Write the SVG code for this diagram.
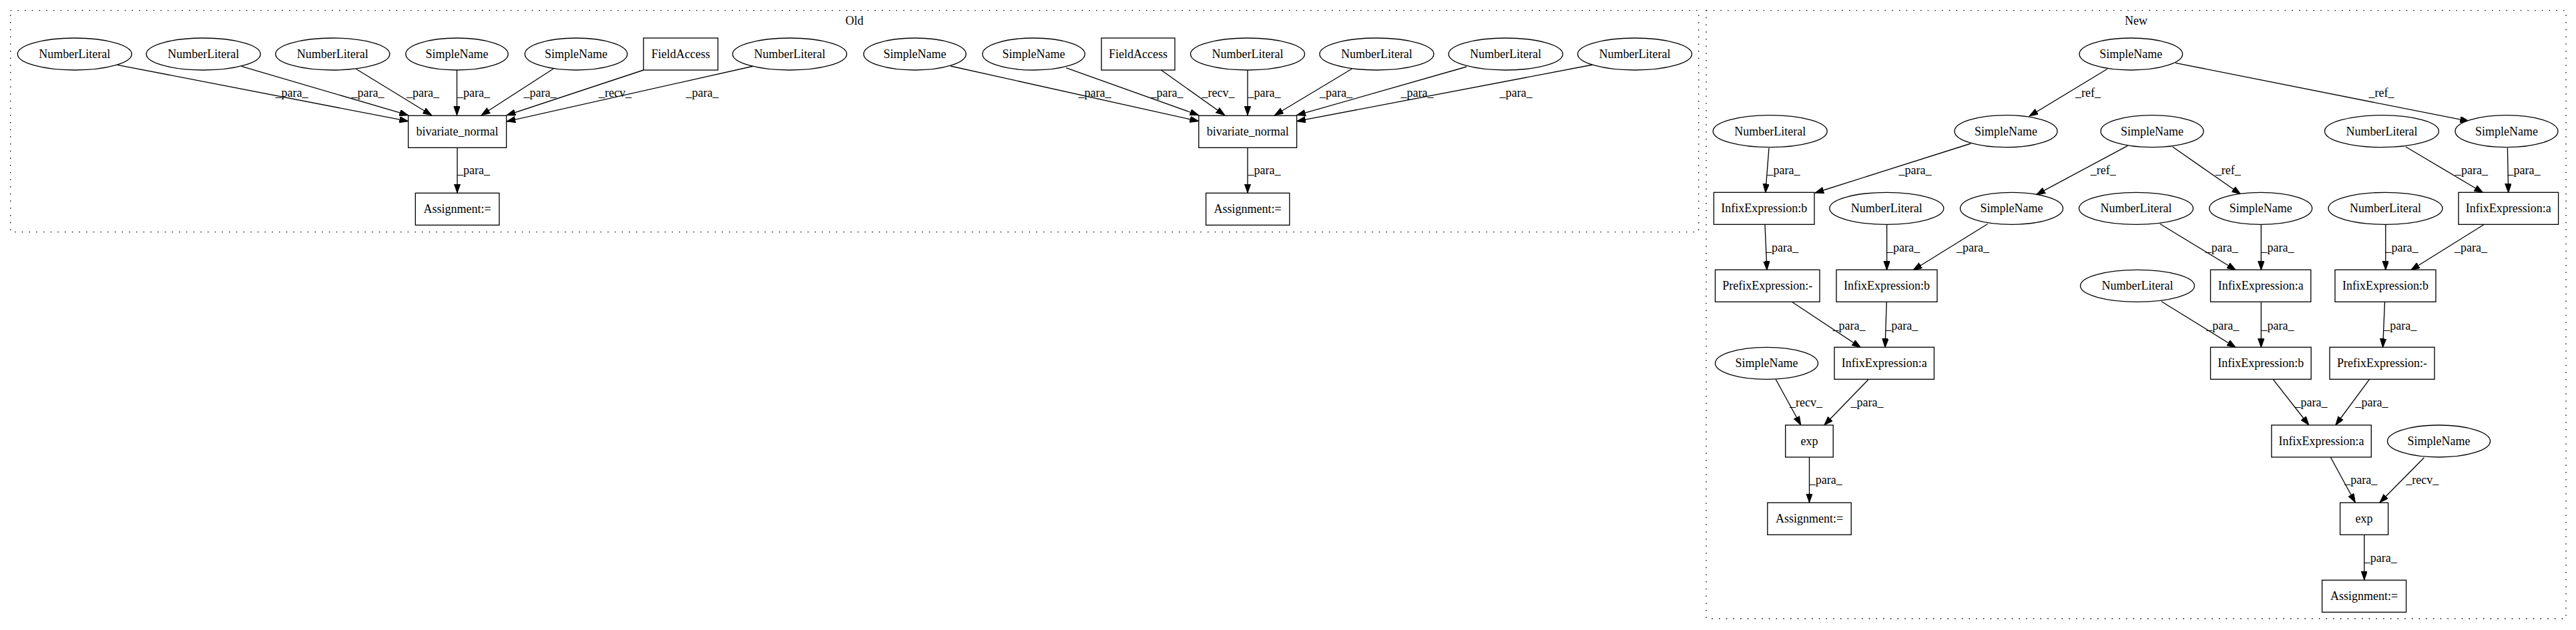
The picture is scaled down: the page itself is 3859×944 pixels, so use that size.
<svg xmlns="http://www.w3.org/2000/svg" width="3859" height="944" viewBox="0 0 3859 944">
<style>
.bg{fill:#ffffff}
.cl{fill:none;stroke:#000;stroke-width:1.33;stroke-dasharray:1.5,9.2}
.nd ellipse,.nd rect{fill:#fff;stroke:#000;stroke-width:1.33}
text{font-family:"Liberation Serif","Times New Roman",Times,serif;font-size:18px;fill:#000;text-anchor:middle}
.ed line{stroke:#000;stroke-width:1.33;fill:none;marker-end:url(#arr)}
</style>
<defs>
<marker id="arr" markerUnits="userSpaceOnUse" markerWidth="14" markerHeight="10" refX="13.3" refY="4.67" orient="auto">
<path d="M0,0 L13.3,4.67 L0,9.33 Z" fill="#000" stroke="#000" stroke-width="1"/>
</marker>
</defs>
<rect class="bg" x="0" y="0" width="3859" height="944"/>
<g id="cluster_old">
<rect class="cl" x="15.7" y="15.7" width="2529" height="332"/>
<text x="1280" y="37">Old</text>
</g>
<g id="cluster_new">
<rect class="cl" x="2556" y="15.7" width="1288" height="911.3"/>
<text x="3200" y="37">New</text>
</g>
<g id="connectors" class="ed">
<line x1="176" y1="97.3" x2="611.7" y2="181.7"/>
<line x1="361.7" y1="99.3" x2="611.7" y2="172.7"/>
<line x1="533.3" y1="103.3" x2="646.7" y2="172.7"/>
<line x1="684.5" y1="105" x2="684.5" y2="172.7"/>
<line x1="829" y1="103" x2="721" y2="172.7"/>
<line x1="964" y1="105" x2="759" y2="172.7"/>
<line x1="1129" y1="99" x2="759" y2="182"/>
<line x1="685" y1="221.3" x2="685" y2="289"/>
<line x1="1424" y1="99" x2="1795.8" y2="181.7"/>
<line x1="1597" y1="101.7" x2="1795.8" y2="172.7"/>
<line x1="1739.5" y1="105" x2="1834.8" y2="172.7"/>
<line x1="1869" y1="105" x2="1869" y2="172.7"/>
<line x1="2025.5" y1="103" x2="1909.4" y2="172.7"/>
<line x1="2197" y1="100" x2="1942.6" y2="172.7"/>
<line x1="2386" y1="97" x2="1942.6" y2="181.7"/>
<line x1="1869" y1="221.3" x2="1869" y2="289"/>
<line x1="3157" y1="103.3" x2="3040" y2="174"/>
<line x1="3259" y1="94.3" x2="3698.8" y2="181.7"/>
<line x1="2650" y1="221.7" x2="2644.8" y2="288.7"/>
<line x1="2952.5" y1="215" x2="2719" y2="289"/>
<line x1="3187.4" y1="218.3" x2="3050.6" y2="291.7"/>
<line x1="3254.7" y1="220" x2="3356.6" y2="291"/>
<line x1="3604" y1="220" x2="3719.8" y2="288.7"/>
<line x1="3756.4" y1="221.7" x2="3757.7" y2="288.7"/>
<line x1="2644" y1="336.7" x2="2647" y2="404.7"/>
<line x1="2826.6" y1="336.7" x2="2826.6" y2="404.7"/>
<line x1="2977.7" y1="335.5" x2="2866" y2="404.7"/>
<line x1="3235.8" y1="335.5" x2="3349.4" y2="404.7"/>
<line x1="3387.3" y1="336.7" x2="3387.3" y2="404.7"/>
<line x1="3573.8" y1="336.7" x2="3573.8" y2="404.7"/>
<line x1="3720.7" y1="336.7" x2="3611.6" y2="404.7"/>
<line x1="2685" y1="452.7" x2="2787.5" y2="520.7"/>
<line x1="2826.2" y1="452.7" x2="2824" y2="520.7"/>
<line x1="3238" y1="451.7" x2="3349.4" y2="520.7"/>
<line x1="3387.3" y1="452.7" x2="3387.3" y2="520.7"/>
<line x1="3572.5" y1="452.7" x2="3569.6" y2="520.7"/>
<line x1="2660" y1="568" x2="2697.8" y2="637"/>
<line x1="2798.9" y1="568.7" x2="2732.8" y2="637"/>
<line x1="3405.4" y1="568.7" x2="3458.9" y2="637"/>
<line x1="3549.4" y1="568.7" x2="3498.8" y2="637"/>
<line x1="2710.5" y1="685" x2="2710.5" y2="753"/>
<line x1="3491.3" y1="685" x2="3528.3" y2="753"/>
<line x1="3631.4" y1="685.7" x2="3565" y2="753"/>
<line x1="3541.8" y1="801" x2="3541.8" y2="869"/>
<g id="edge_labels">
<text x="437" y="145.3">_para_</text>
<text x="551" y="145.3">_para_</text>
<text x="633.5" y="145.3">_para_</text>
<text x="709.5" y="145.3">_para_</text>
<text x="809" y="145.3">_para_</text>
<text x="921.5" y="145.3">_recv_</text>
<text x="1052" y="145.3">_para_</text>
<text x="709.5" y="261">_para_</text>
<text x="1640" y="145.3">_para_</text>
<text x="1748" y="145.3">_para_</text>
<text x="1825" y="145.3">_recv_</text>
<text x="1894" y="145.3">_para_</text>
<text x="2001.4" y="145.3">_para_</text>
<text x="2123" y="145.3">_para_</text>
<text x="2271" y="145.3">_para_</text>
<text x="1894" y="261">_para_</text>
<text x="3128" y="145.3">_ref_</text>
<text x="3567.5" y="145.3">_ref_</text>
<text x="2672" y="261.3">_para_</text>
<text x="2869" y="261.3">_para_</text>
<text x="3150.7" y="261.3">_ref_</text>
<text x="3337.8" y="261.3">_ref_</text>
<text x="3702.5" y="261.3">_para_</text>
<text x="3781" y="261.3">_para_</text>
<text x="2669.5" y="376.7">_para_</text>
<text x="2851.6" y="376.7">_para_</text>
<text x="2955.5" y="376.7">_para_</text>
<text x="3328.3" y="376.7">_para_</text>
<text x="3412" y="376.7">_para_</text>
<text x="3598" y="376.7">_para_</text>
<text x="3701.5" y="376.7">_para_</text>
<text x="2770" y="493.7">_para_</text>
<text x="2848.8" y="493.7">_para_</text>
<text x="3329.8" y="493.7">_para_</text>
<text x="3412" y="493.7">_para_</text>
<text x="3595.7" y="493.7">_para_</text>
<text x="2705.5" y="609.3">_recv_</text>
<text x="2797" y="609.3">_para_</text>
<text x="3462" y="609.3">_para_</text>
<text x="3553" y="609.3">_para_</text>
<text x="2735.3" y="725.3">_para_</text>
<text x="3536.7" y="725.3">_para_</text>
<text x="3628.8" y="725.3">_recv_</text>
<text x="3566.2" y="841.7">_para_</text>
</g>
</g>
<g id="o_nl1" class="nd"><ellipse cx="111.8" cy="81" rx="85.5" ry="24"/><text x="111.8" y="87">NumberLiteral</text></g>
<g id="o_nl2" class="nd"><ellipse cx="304.7" cy="81" rx="85.5" ry="24"/><text x="304.7" y="87">NumberLiteral</text></g>
<g id="o_nl3" class="nd"><ellipse cx="498.3" cy="81" rx="85.5" ry="24"/><text x="498.3" y="87">NumberLiteral</text></g>
<g id="o_sn1" class="nd"><ellipse cx="684.5" cy="81" rx="76.7" ry="24"/><text x="684.5" y="87">SimpleName</text></g>
<g id="o_sn2" class="nd"><ellipse cx="863" cy="81" rx="76.7" ry="24"/><text x="863" y="87">SimpleName</text></g>
<g id="o_fa1" class="nd"><rect x="964" y="57" width="111.5" height="48"/><text x="1019.7" y="87">FieldAccess</text></g>
<g id="o_nl4" class="nd"><ellipse cx="1183" cy="81" rx="85.5" ry="24"/><text x="1183" y="87">NumberLiteral</text></g>
<g id="o_sn3" class="nd"><ellipse cx="1370.5" cy="81" rx="76.7" ry="24"/><text x="1370.5" y="87">SimpleName</text></g>
<g id="o_sn4" class="nd"><ellipse cx="1548.5" cy="81" rx="76.7" ry="24"/><text x="1548.5" y="87">SimpleName</text></g>
<g id="o_fa2" class="nd"><rect x="1650" y="57" width="110" height="48"/><text x="1705" y="87">FieldAccess</text></g>
<g id="o_nl5" class="nd"><ellipse cx="1869" cy="81" rx="85.5" ry="24"/><text x="1869" y="87">NumberLiteral</text></g>
<g id="o_nl6" class="nd"><ellipse cx="2062.4" cy="81" rx="85.5" ry="24"/><text x="2062.4" y="87">NumberLiteral</text></g>
<g id="o_nl7" class="nd"><ellipse cx="2255.6" cy="81" rx="85.5" ry="24"/><text x="2255.6" y="87">NumberLiteral</text></g>
<g id="o_nl8" class="nd"><ellipse cx="2449" cy="81" rx="85.5" ry="24"/><text x="2449" y="87">NumberLiteral</text></g>
<g id="o_bn1" class="nd"><rect x="611.6" y="173.3" width="147" height="48"/><text x="685" y="203.3">bivariate_normal</text></g>
<g id="o_bn2" class="nd"><rect x="1795.8" y="173.3" width="146.8" height="48"/><text x="1869.2" y="203.3">bivariate_normal</text></g>
<g id="o_as1" class="nd"><rect x="622.3" y="289.3" width="125.6" height="48"/><text x="685" y="319.3">Assignment:=</text></g>
<g id="o_as2" class="nd"><rect x="1806.6" y="289.3" width="125.2" height="48"/><text x="1869.2" y="319.3">Assignment:=</text></g>
<g id="n_sn_root" class="nd"><ellipse cx="3192.3" cy="81" rx="77.3" ry="24"/><text x="3192.3" y="87">SimpleName</text></g>
<g id="n_nl_a" class="nd"><ellipse cx="2651.7" cy="196.7" rx="85.5" ry="24"/><text x="2651.7" y="202.7">NumberLiteral</text></g>
<g id="n_sn_a" class="nd"><ellipse cx="3005" cy="196.7" rx="77" ry="24"/><text x="3005" y="202.7">SimpleName</text></g>
<g id="n_sn_b" class="nd"><ellipse cx="3224" cy="196.7" rx="77" ry="24"/><text x="3224" y="202.7">SimpleName</text></g>
<g id="n_nl_b" class="nd"><ellipse cx="3568" cy="196.7" rx="85.5" ry="24"/><text x="3568" y="202.7">NumberLiteral</text></g>
<g id="n_sn_c" class="nd"><ellipse cx="3755" cy="196.7" rx="77" ry="24"/><text x="3755" y="202.7">SimpleName</text></g>
<g id="n_ie_b1" class="nd"><rect x="2567.4" y="288.3" width="150.6" height="48"/><text x="2642.7" y="318.3">InfixExpression:b</text></g>
<g id="n_nl_c" class="nd"><ellipse cx="2826.3" cy="312.3" rx="85.5" ry="24"/><text x="2826.3" y="318.3">NumberLiteral</text></g>
<g id="n_sn_d" class="nd"><ellipse cx="3013.5" cy="312.3" rx="77" ry="24"/><text x="3013.5" y="318.3">SimpleName</text></g>
<g id="n_nl_d" class="nd"><ellipse cx="3200" cy="312.3" rx="85.5" ry="24"/><text x="3200" y="318.3">NumberLiteral</text></g>
<g id="n_sn_e" class="nd"><ellipse cx="3386.7" cy="312.3" rx="77" ry="24"/><text x="3386.7" y="318.3">SimpleName</text></g>
<g id="n_nl_e" class="nd"><ellipse cx="3573.5" cy="312.3" rx="85.5" ry="24"/><text x="3573.5" y="318.3">NumberLiteral</text></g>
<g id="n_ie_a1" class="nd"><rect x="3683" y="288.3" width="149.6" height="48"/><text x="3757.8" y="318.3">InfixExpression:a</text></g>
<g id="n_pe1" class="nd"><rect x="2569.5" y="404.3" width="156.5" height="48"/><text x="2647.8" y="434.3">PrefixExpression:-</text></g>
<g id="n_ie_b2" class="nd"><rect x="2751" y="404.3" width="151" height="48"/><text x="2826.5" y="434.3">InfixExpression:b</text></g>
<g id="n_nl_f" class="nd"><ellipse cx="3202" cy="428.3" rx="85.5" ry="24"/><text x="3202" y="434.3">NumberLiteral</text></g>
<g id="n_ie_a2" class="nd"><rect x="3311.5" y="404.3" width="150.3" height="48"/><text x="3386.7" y="434.3">InfixExpression:a</text></g>
<g id="n_ie_b3" class="nd"><rect x="3498" y="404.3" width="151" height="48"/><text x="3573.5" y="434.3">InfixExpression:b</text></g>
<g id="n_sn_f" class="nd"><ellipse cx="2646.5" cy="544.3" rx="77" ry="24"/><text x="2646.5" y="550.3">SimpleName</text></g>
<g id="n_ie_a3" class="nd"><rect x="2748" y="520.3" width="149.4" height="48"/><text x="2822.7" y="550.3">InfixExpression:a</text></g>
<g id="n_ie_b4" class="nd"><rect x="3311.5" y="520.3" width="150.7" height="48"/><text x="3386.8" y="550.3">InfixExpression:b</text></g>
<g id="n_pe2" class="nd"><rect x="3490" y="520.3" width="157" height="48"/><text x="3568.5" y="550.3">PrefixExpression:-</text></g>
<g id="n_exp1" class="nd"><rect x="2674.7" y="637" width="71.5" height="48"/><text x="2710.5" y="667">exp</text></g>
<g id="n_ie_a4" class="nd"><rect x="3402.9" y="637" width="149.4" height="48"/><text x="3477.6" y="667">InfixExpression:a</text></g>
<g id="n_sn_g" class="nd"><ellipse cx="3653.5" cy="661" rx="77" ry="24"/><text x="3653.5" y="667">SimpleName</text></g>
<g id="n_as1" class="nd"><rect x="2647.8" y="753.3" width="125.4" height="48"/><text x="2710.5" y="783.3">Assignment:=</text></g>
<g id="n_exp2" class="nd"><rect x="3505.6" y="753.3" width="72" height="48"/><text x="3541.6" y="783.3">exp</text></g>
<g id="n_as2" class="nd"><rect x="3478.6" y="869.3" width="126" height="48"/><text x="3541.6" y="899.3">Assignment:=</text></g>
</svg>
